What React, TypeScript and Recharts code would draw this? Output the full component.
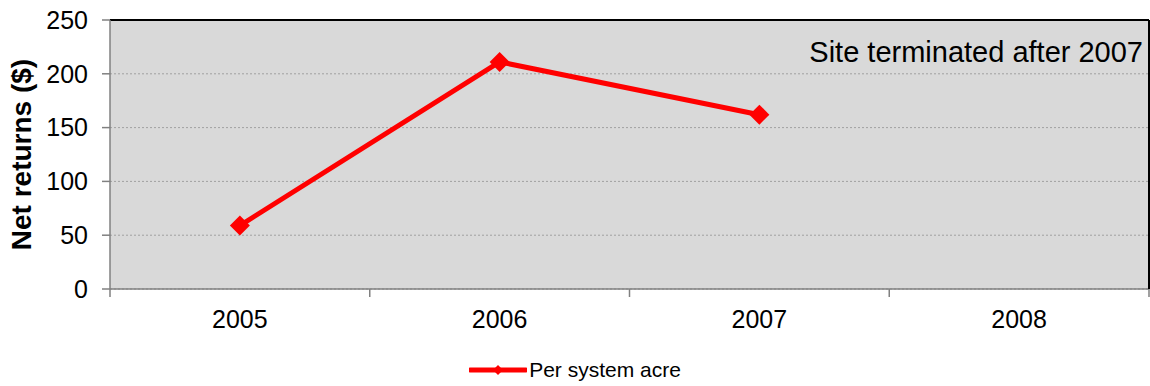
import {
  CartesianGrid,
  Label,
  Legend,
  Line,
  LineChart,
  ReferenceLine,
  XAxis,
  YAxis,
} from "recharts";

const years = ["2005", "2006", "2007", "2008"];
const perSystemAcre = [59, 211, 162, null];
const yTicks = [0, 50, 100, 150, 200, 250];
const seriesName = "Per system acre";
const note = "Site terminated after 2007";

const data = years.map((year, i) => ({ year, acre: perSystemAcre[i] }));

const font = "Arial, 'Liberation Sans', sans-serif";
const red = "#FF0000";
const axisGrey = "#808080";

const X_TICK = 8;
const X_MARGIN = 13;

// year label at band centre, tick marks on band edges (like Excel)
const YearTick = (props: any) => {
  const { x, y, payload } = props;
  const half = payload?.offset || 130;
  const axisY = y - X_TICK - X_MARGIN;
  const isLast = payload?.value === years[years.length - 1];
  return (
    <g>
      <line x1={x - half} x2={x - half} y1={axisY} y2={axisY + X_TICK} stroke={axisGrey} strokeWidth={1.5} />
      {isLast && (
        <line x1={x + half} x2={x + half} y1={axisY} y2={axisY + X_TICK} stroke={axisGrey} strokeWidth={1.5} />
      )}
      <text x={x} y={y} dy="0.71em" textAnchor="middle" fill="#000" fontSize={25} fontFamily={font}>
        {payload.value}
      </text>
    </g>
  );
};

const Diamond = (props: any) => {
  const { cx, cy, index } = props;
  if (cx == null || cy == null) return <g key={`d-${index}`} />;
  const r = 10;
  return (
    <polygon
      key={`d-${index}`}
      points={`${cx},${cy - r} ${cx + r},${cy} ${cx},${cy + r} ${cx - r},${cy}`}
      fill={red}
    />
  );
};

const LegendBox = () => (
  <div style={{ display: "flex", justifyContent: "center", alignItems: "center", fontFamily: font, fontSize: 21 }}>
    <svg width={58} height={14} style={{ marginRight: 2 }}>
      <line x1={1} x2={57} y1={7} y2={7} stroke={red} strokeWidth={5} strokeLinecap="round" />
      <polygon points="29,2 34,7 29,12 24,7" fill={red} />
    </svg>
    <span style={{ color: "#000" }}>{seriesName}</span>
  </div>
);

export default function App() {
  return (
    <div style={{ position: "absolute", left: 0, top: 0, width: 1150, height: 386, background: "#fff" }}>
      <LineChart width={1150} height={386} data={data} margin={{ top: 20, right: 0, left: 0, bottom: 4 }}>
        <CartesianGrid vertical={false} fill="#D9D9D9" stroke="#A0A0A0" strokeDasharray="2 2" />
        <XAxis
          dataKey="year"
          scale="band"
          tickLine={false}
          tickSize={X_TICK}
          tickMargin={X_MARGIN}
          height={69}
          axisLine={{ stroke: axisGrey, strokeWidth: 1.5 }}
          tick={<YearTick />}
          interval={0}
        />
        <YAxis
          width={110}
          domain={[0, 250]}
          ticks={yTicks}
          tickSize={8}
          tickMargin={14}
          axisLine={{ stroke: axisGrey, strokeWidth: 1.5 }}
          tickLine={{ stroke: axisGrey, strokeWidth: 1.5 }}
          tick={{ fill: "#000", fontSize: 25, fontFamily: font }}
        >
          <Label
            value="Net returns ($)"
            angle={-90}
            position="insideLeft"
            offset={0}
            style={{ fontSize: 28, fontWeight: 700, fontFamily: font, fill: "#000", textAnchor: "middle" }}
            dx={21}
          />
        </YAxis>
        <YAxis
          yAxisId="right"
          orientation="right"
          width={1}
          domain={[0, 250]}
          tick={false}
          tickLine={false}
          axisLine={{ stroke: "#000", strokeWidth: 2 }}
        />
        <ReferenceLine y={250} stroke="#000" strokeWidth={2}>
          <Label
            content={(p: any) => {
              const vb = p.viewBox;
              return (
                <text
                  x={vb.x + vb.width - 6}
                  y={vb.y + 42}
                  textAnchor="end"
                  fontSize={29}
                  fontFamily={font}
                  fill="#000"
                >
                  {note}
                </text>
              );
            }}
          />
        </ReferenceLine>
        <Legend verticalAlign="bottom" content={<LegendBox />} wrapperStyle={{ left: 0, width: 1150 }} />
        <Line
          type="linear"
          dataKey="acre"
          name={seriesName}
          stroke={red}
          strokeWidth={5}
          dot={<Diamond />}
          activeDot={false}
          isAnimationActive={false}
        />
      </LineChart>
    </div>
  );
}
